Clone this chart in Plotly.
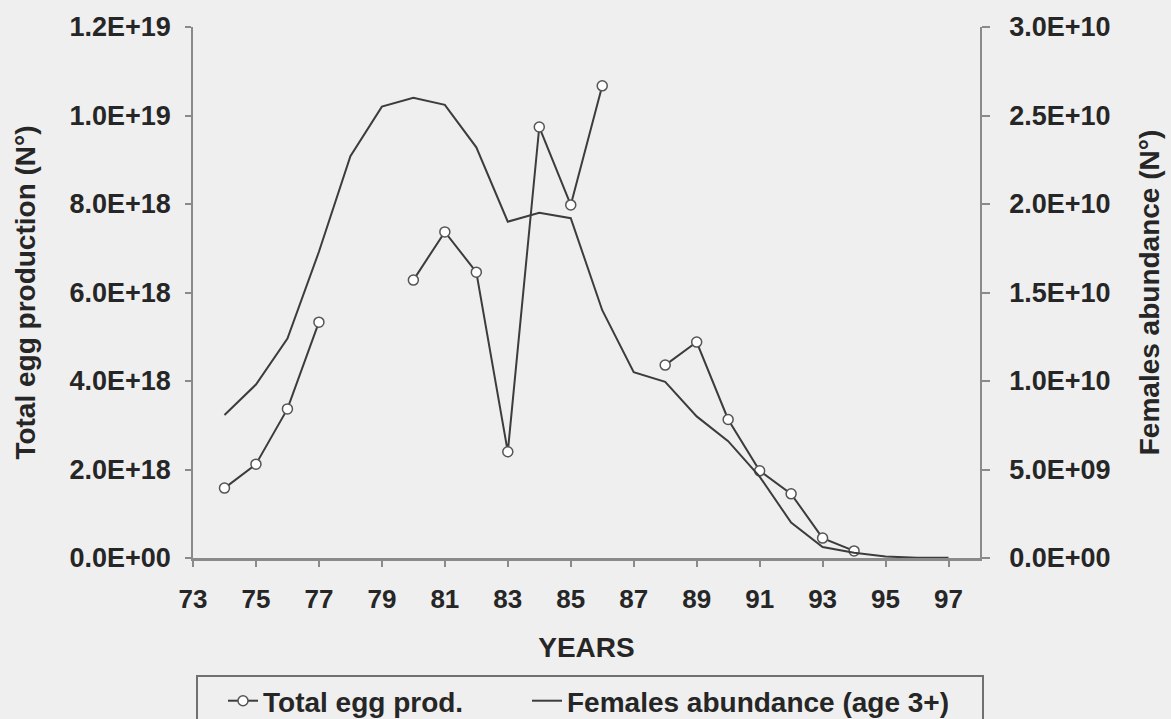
import plotly.graph_objects as go

# ---- data ----
egg_years = list(range(74, 95))
egg_prod = [1.58e18, 2.12e18, 3.37e18, 5.33e18, None, None, 6.28e18, 7.37e18, 6.46e18,
            2.40e18, 9.74e18, 7.98e18, 10.67e18, None, 4.36e18, 4.88e18, 3.13e18,
            1.97e18, 1.45e18, 0.45e18, 0.16e18]
fem_years = list(range(74, 98))
females = [8.08e9, 9.8e9, 12.4e9, 17.3e9, 22.7e9, 25.5e9, 26.0e9, 25.6e9, 23.2e9,
           19.0e9, 19.5e9, 19.2e9, 14.0e9, 10.5e9, 9.95e9, 8.0e9, 6.6e9, 4.6e9,
           2.0e9, 0.62e9, 0.3e9, 0.08e9, 0.02e9, 0.01e9]

x_tickvals = list(range(73, 98, 2))
x_ticktext = [str(v) for v in x_tickvals]
y1_tickvals = [0, 2e18, 4e18, 6e18, 8e18, 1e19, 1.2e19]
y1_ticktext = ["0.0E+00", "2.0E+18", "4.0E+18", "6.0E+18", "8.0E+18", "1.0E+19", "1.2E+19"]
y2_tickvals = [0, 5e9, 1e10, 1.5e10, 2e10, 2.5e10, 3e10]
y2_ticktext = ["0.0E+00", "5.0E+09", "1.0E+10", "1.5E+10", "2.0E+10", "2.5E+10", "3.0E+10"]

BG = "#efefef"
LINE = "#3c3c3c"
AX = "#8a8a8a"
TXT = "#262626"
FONT = "Liberation Sans"

fig = go.Figure()
fig.add_trace(go.Scatter(
    x=egg_years, y=egg_prod, name="Total egg prod.", mode="lines+markers",
    connectgaps=False, line=dict(color=LINE, width=2),
    marker=dict(symbol="circle", size=10, color="white", line=dict(color="#555555", width=1.5)),
    yaxis="y", legend="legend"))
fig.add_trace(go.Scatter(
    x=fem_years, y=females, name="Females abundance (age 3+)", mode="lines",
    line=dict(color=LINE, width=2), yaxis="y2", legend="legend2"))

xtickfont = dict(family=FONT, size=26, color=TXT, weight="bold")
ytickfont = dict(family=FONT, size=27, color=TXT, weight="bold")
titlefont = dict(family=FONT, size=28, color=TXT, weight="bold")
legfont = dict(family=FONT, size=28, color=TXT, weight="bold")

PL, PR, PT, PB = 193, 980, 27, 558
pw, ph = PR - PL, PB - PT

fig.update_layout(
    width=1171, height=719,
    margin=dict(l=PL, r=1171 - PR, t=PT, b=719 - PB, autoexpand=False),
    paper_bgcolor=BG, plot_bgcolor=BG,
    showlegend=True,
    xaxis=dict(range=[73, 98], tickvals=x_tickvals, ticktext=x_ticktext,
               showgrid=False, zeroline=False, showline=True, linecolor=AX, linewidth=2.5,
               ticks="outside", ticklen=6, tickcolor=AX, tickwidth=1.5,
               tickfont=xtickfont, ticklabelstandoff=10, automargin=False,
               title=dict(text="YEARS", font=titlefont, standoff=25)),
    yaxis=dict(range=[0, 1.2e19], tickvals=y1_tickvals, ticktext=y1_ticktext,
               showgrid=False, zeroline=False, showline=True, linecolor=AX, linewidth=1.5,
               ticks="outside", ticklen=6, tickcolor=AX, tickwidth=1.5,
               tickfont=ytickfont, ticklabelstandoff=9, automargin=False,
               title=dict(text="Total egg production (N°)", font=titlefont, standoff=26)),
    yaxis2=dict(range=[0, 3e10], tickvals=y2_tickvals, ticktext=y2_ticktext,
                overlaying="y", side="right",
                showgrid=False, zeroline=False, showline=True, linecolor=AX, linewidth=1.5,
                ticks="outside", ticklen=8, tickcolor=AX, tickwidth=1.5,
                tickfont=ytickfont, ticklabelstandoff=14, automargin=False,
                title=dict(text="Females abundance (N°)", font=titlefont, standoff=30)),
    legend=dict(orientation="h", x=(223 - PL) / pw, xanchor="left",
                y=(PB - 676) / ph, yanchor="top",
                bgcolor="rgba(0,0,0,0)", borderwidth=0, font=legfont, itemwidth=30),
    legend2=dict(orientation="h", x=(527 - PL) / pw, xanchor="left",
                 y=(PB - 676) / ph, yanchor="top",
                 bgcolor="rgba(0,0,0,0)", borderwidth=0, font=legfont, itemwidth=30),
    shapes=[dict(type="rect", xref="paper", yref="paper",
                 x0=(197 - PL) / pw, x1=(983 - PL) / pw,
                 y0=(PB - 676) / ph, y1=(PB - 740) / ph,
                 line=dict(color="#707070", width=2), fillcolor="rgba(0,0,0,0)")],
)

fig.write_html("out.html", config={"displayModeBar": False},
               post_script="document.body.style.margin='0';document.body.style.background='#efefef';")
